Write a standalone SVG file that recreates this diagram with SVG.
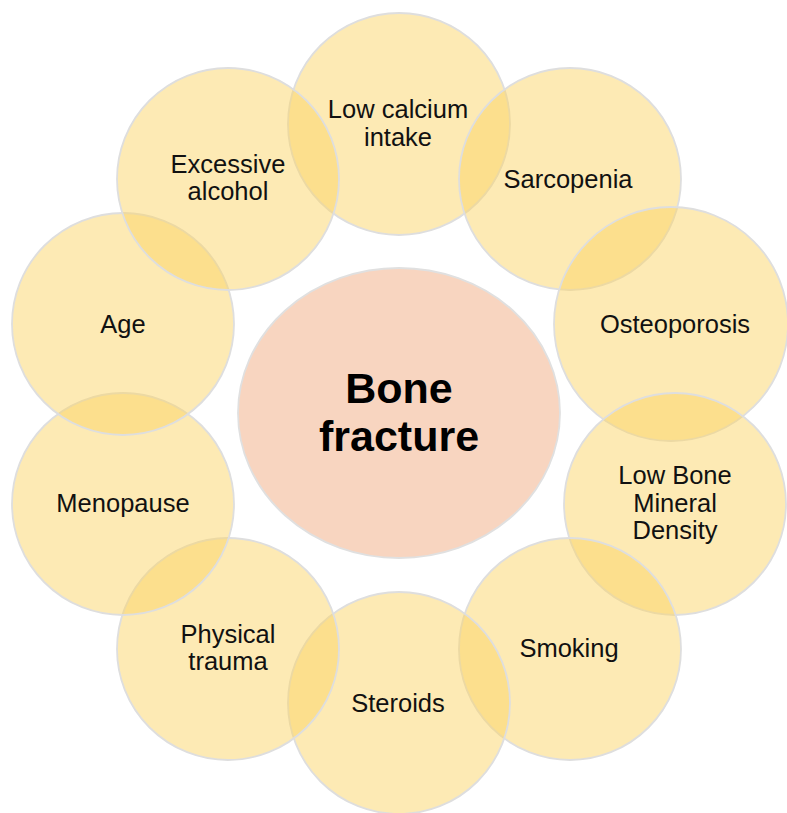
<svg xmlns="http://www.w3.org/2000/svg" width="787" height="813" viewBox="0 0 787 813">
<style>
.c{fill:#FBD363;fill-opacity:0.48;stroke:#DEDEDE;stroke-width:1.8}
.m{fill:#F8D5C0;stroke:#E0E0E0;stroke-width:1.8}
.t{font-family:"Liberation Sans",Arial,sans-serif;font-size:25.5px;fill:#111;text-anchor:middle}
.b{font-family:"Liberation Sans",Arial,sans-serif;font-size:43px;font-weight:bold;fill:#000;text-anchor:middle}
</style>
<rect width="787" height="813" fill="#fff"/>
<g id="connectors"/>
<g id="center"><ellipse class="m" cx="399" cy="413" rx="161" ry="145"/>
<text class="b" x="399" y="403">Bone</text><text class="b" x="399" y="451">fracture</text></g>
<g id="low-calcium"><circle class="c" cx="399" cy="124" r="111"/>
<text class="t" x="398" y="118">Low calcium</text><text class="t" x="398" y="146">intake</text></g>
<g id="sarcopenia"><circle class="c" cx="570" cy="179" r="111"/>
<text class="t" x="568" y="188">Sarcopenia</text></g>
<g id="osteoporosis"><circle class="c" cx="671" cy="324" r="117"/>
<text class="t" x="675" y="333">Osteoporosis</text></g>
<g id="low-bmd"><circle class="c" cx="675" cy="504" r="111"/>
<text class="t" x="675" y="484">Low Bone</text><text class="t" x="675" y="512">Mineral</text><text class="t" x="675" y="539">Density</text></g>
<g id="smoking"><circle class="c" cx="570" cy="649" r="111"/>
<text class="t" x="569" y="657">Smoking</text></g>
<g id="steroids"><circle class="c" cx="399" cy="703" r="111"/>
<text class="t" x="398" y="712">Steroids</text></g>
<g id="physical-trauma"><circle class="c" cx="228" cy="649" r="111"/>
<text class="t" x="228" y="643">Physical</text><text class="t" x="228" y="670">trauma</text></g>
<g id="menopause"><circle class="c" cx="123" cy="504" r="111"/>
<text class="t" x="123" y="512">Menopause</text></g>
<g id="age"><circle class="c" cx="123" cy="324" r="111"/>
<text class="t" x="123" y="333">Age</text></g>
<g id="excessive-alcohol"><circle class="c" cx="228" cy="179" r="111"/>
<text class="t" x="228" y="173">Excessive</text><text class="t" x="228" y="200">alcohol</text></g>
</svg>
